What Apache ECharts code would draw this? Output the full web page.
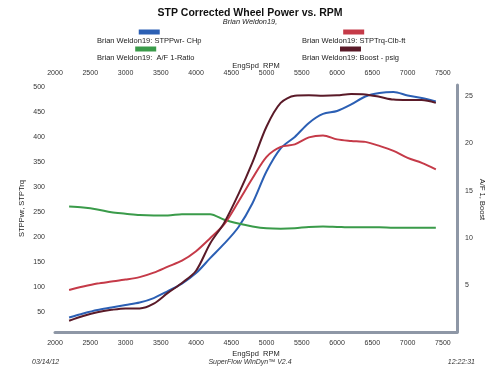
<!DOCTYPE html>
<html>
<head>
<meta charset="utf-8">
<script src="https://cdn.jsdelivr.net/npm/echarts@6/dist/echarts.min.js"></script>
<style>
  html, body { margin: 0; padding: 0; background: #fff; }
  #chart { width: 500px; height: 375px; }
</style>
</head>
<body>
<div id="chart"></div>
<script>
// engine speed, rpm
const rpm = [2200, 2400, 2600, 2800, 3000, 3200, 3400, 3600, 3800, 4000, 4200, 4400, 4600, 4800,
  5000, 5200, 5400, 5600, 5800, 6000, 6200, 6400, 6600, 6800, 7000, 7200, 7400]
// STPPwr, CHp (left axis)
const power = [39, 47, 54, 59, 64, 69, 78, 92, 107, 128, 158, 187, 220, 268,
  332, 378, 401, 429, 447, 453, 466, 482, 489, 491, 484, 479, 472]
// STPTrq, Clb-ft (left axis)
const torque = [94, 101, 107, 111, 115, 120, 129, 141, 153, 172, 198, 226, 271, 318,
  361, 381, 386, 400, 404, 396, 393, 391, 383, 373, 359, 349, 336]
// A/F ratio (right axis)
const afr = [13.3, 13.2, 13.0, 12.7, 12.55, 12.4, 12.35, 12.35, 12.5, 12.5, 12.5, 11.9, 11.5, 11.2,
  11.0, 10.95, 11.0, 11.15, 11.2, 11.15, 11.1, 11.1, 11.1, 11.05, 11.05, 11.05, 11.06]
// boost, psig (right axis)
const boost = [1.2, 1.7, 2.1, 2.35, 2.5, 2.5, 3.0, 4.15, 5.2, 6.5, 9.4, 11.6, 14.6, 18.0,
  21.8, 24.3, 25.05, 25.1, 25.05, 25.1, 25.25, 25.2, 24.95, 24.65, 24.6, 24.6, 24.3]

const names = [
  'Brian Weldon19: STPPwr- CHp',
  'Brian Weldon19:  A/F 1-Ratio',
  'Brian Weldon19: STPTrq-Clb-ft',
  'Brian Weldon19: Boost - psig'
]
const colors = ['#2b5fb4', '#3a9b4a', '#c53a48', '#5a1a28']
const values = [power, afr, torque, boost]
const yIdx = [0, 1, 0, 1]

const font = 'Liberation Sans, Arial, sans-serif'
const frame = '#8e97a6'

let chart = echarts.init(document.getElementById('chart'))

// legend swatch sits above the text
let rich = { t: { fontSize: 7.5, lineHeight: 12, align: 'center', color: '#222', fontFamily: font } }
colors.forEach((c, i) => {
  rich['b' + i] = { width: 21, height: 5, lineHeight: 5, backgroundColor: c, align: 'center' }
})
function legendText(name) {
  let i = names.indexOf(name)
  return '{b' + i + '|}\n{t|' + name + '}'
}
function legendAt(left, top, item) {
  return {
    data: [item], left: left, top: top, orient: 'vertical',
    icon: 'none', itemWidth: 1, itemHeight: 1, padding: 0,
    formatter: legendText,
    textStyle: { rich: rich }
  }
}

let option = {
  backgroundColor: '#fff',
  animation: false,
  textStyle: { fontFamily: font },
  title: [
    { text: 'STP Corrected Wheel Power vs. RPM', left: 'center', top: 3,
      textStyle: { fontSize: 10.5, fontWeight: 'bold', color: '#111', fontFamily: font } },
    { text: 'Brian Weldon19,', left: 'center', top: 13,
      textStyle: { fontSize: 7.4, fontStyle: 'italic', fontWeight: 'normal', color: '#222', fontFamily: font } },
    { text: '03/14/12', left: 27, top: 354,
      textStyle: { fontSize: 7, fontStyle: 'italic', fontWeight: 'normal', color: '#333', fontFamily: font } },
    { text: 'SuperFlow WinDyn™ V2.4', left: 'center', top: 354,
      textStyle: { fontSize: 7, fontStyle: 'italic', fontWeight: 'normal', color: '#333', fontFamily: font } },
    { text: '12:22:31', right: 20, top: 354,
      textStyle: { fontSize: 7, fontStyle: 'italic', fontWeight: 'normal', color: '#333', fontFamily: font } }
  ],
  legend: [
    legendAt(91, 26, names[0]),
    legendAt(91, 43, names[1]),
    legendAt(296, 26, names[2]),
    legendAt(296, 43, names[3])
  ],
  grid: { left: 55, right: 43, top: 85, bottom: 43, containLabel: false, outerBoundsMode: 'none' },
  xAxis: [
    {
      type: 'value', min: 2000, max: 7700, interval: 500, position: 'bottom',
      name: 'EngSpd  RPM', nameLocation: 'middle', nameGap: 18, nameMoveOverlap: false,
      nameTextStyle: { fontSize: 7.5, color: '#222' },
      axisLine: { show: true, onZero: false, lineStyle: { color: frame, width: 3 } },
      axisTick: { show: false },
      splitLine: { show: false },
      axisLabel: { fontSize: 7, color: '#333', margin: 8, showMaxLabel: false, formatter: v => String(v) }
    },
    {
      type: 'value', min: 2000, max: 7700, interval: 500, position: 'top',
      name: 'EngSpd  RPM', nameLocation: 'middle', nameGap: 15, nameMoveOverlap: false,
      nameTextStyle: { fontSize: 7.5, color: '#222' },
      axisLine: { show: false },
      axisTick: { show: false },
      splitLine: { show: false },
      axisLabel: { fontSize: 7, color: '#333', margin: 8, showMaxLabel: false, formatter: v => String(v) }
    }
  ],
  yAxis: [
    {
      type: 'value', min: 10, max: 505, interval: 10, position: 'left',
      name: 'STPPwr, STPTrq', nameLocation: 'middle', nameGap: 29, nameMoveOverlap: false,
      nameTextStyle: { fontSize: 7.5, color: '#222' },
      axisLine: { show: false },
      axisTick: { show: false },
      splitLine: { show: false },
      axisLabel: {
        fontSize: 7, color: '#333', margin: 10,
        formatter: v => { let r = Math.round(v); return (r % 50 === 0 && r <= 500) ? r : '' }
      }
    },
    {
      type: 'value', min: 0, max: 26.2, interval: 5, position: 'right',
      name: 'A/F 1, Boost', nameLocation: 'middle', nameGap: 21, nameRotate: -90, nameMoveOverlap: false,
      nameTextStyle: { fontSize: 7.5, color: '#222', padding: [0, 18, 0, 0] },
      axisLine: { show: true, lineStyle: { color: frame, width: 3 } },
      axisTick: { show: false },
      splitLine: { show: false },
      axisLabel: { fontSize: 7, color: '#333', margin: 8, showMinLabel: false, showMaxLabel: false }
    }
  ],
  series: names.map((n, i) => ({
    name: n,
    type: 'line',
    yAxisIndex: yIdx[i],
    data: rpm.map((r, j) => [r, values[i][j]]),
    smooth: 0.3,
    showSymbol: false,
    lineStyle: { color: colors[i], width: 2 },
    itemStyle: { color: colors[i] }
  }))
}

chart.setOption(option)
</script>
</body>
</html>
